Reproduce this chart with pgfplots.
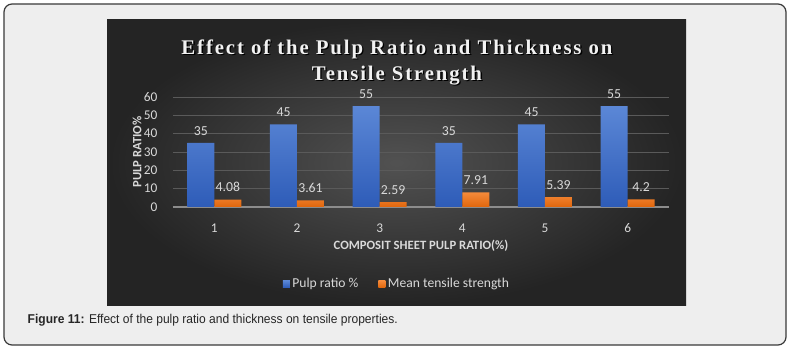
\documentclass[border=0pt]{standalone}
\usepackage{pgfplots}
\pgfplotsset{compat=1.18}
\usepackage{fontspec}
\setmainfont{Carlito}
\newfontfamily\titlefont[LetterSpace=9]{Liberation Serif}
\newfontfamily\capfont[FakeStretch=0.94]{Liberation Sans}
\definecolor{txt}{HTML}{D9D9D9}
\definecolor{panel}{HTML}{EEEEEE}
\definecolor{frame}{HTML}{3A3A3A}
\definecolor{gridc}{HTML}{5A5A5A}
\definecolor{axc}{HTML}{8C8C8C}
\definecolor{btop}{HTML}{5B87D6}
\definecolor{bbot}{HTML}{2E5CB8}
\definecolor{otop}{HTML}{F58A3A}
\definecolor{obot}{HTML}{E0660C}
\begin{document}
\begin{tikzpicture}[x=0.75pt,y=0.75pt]
\fill[white] (0,0) rectangle (794,353);
\draw[fill=panel, draw=frame, line width=0.9pt, rounded corners=6pt] (4,8) rectangle (786,349);
\shade[inner color=black!68, outer color=black!86] (107,47) rectangle (686,333.5);
\node[font=\titlefont\bfseries\fontsize{15.6}{19.5}\selectfont, text=black, align=center] at (398.3,289.7) {Effect of the Pulp Ratio and Thickness on\\Tensile Strength};
\node[font=\titlefont\bfseries\fontsize{15.6}{19.5}\selectfont, text=white!95!black, align=center] at (397,291) {Effect of the Pulp Ratio and Thickness on\\Tensile Strength};
\begin{axis}[
  at={(129.75pt,109.5pt)}, anchor=south west,
  scale only axis, width=372pt, height=82.5pt,
  xmin=0.5, xmax=6.5, ymin=0, ymax=60,
  ybar=0pt, bar width=20.25pt,
  xtick={1,2,3,4,5,6},
  ytick={0,10,20,30,40,50,60},
  /pgf/number format/assume math mode=true,
  ymajorgrids, grid style={gridc, line width=0.6pt},
  axis lines=left, axis line style={-},
  x axis line style={axc, line width=0.9pt},
  y axis line style={draw=none},
  tick style={draw=none},
  ticklabel style={font=\fontsize{10}{12}\selectfont, text=txt},
  yticklabel style={xshift=-6pt},
  xticklabel style={yshift=-7pt},
  xlabel={COMPOSIT SHEET PULP RATIO(\%)},
  xlabel style={at={(axis description cs:0.5,-0.355)}, anchor=center, font=\bfseries\fontsize{9.5}{11}\selectfont, text=txt},
  ylabel={PULP RATIO\%},
  ylabel style={at={(axis description cs:-0.0726,0.5)}, anchor=center, font=\bfseries\fontsize{9.5}{11}\selectfont, text=txt},
  nodes near coords,
  nodes near coords style={font=\fontsize{10.3}{12}\selectfont, text=txt, yshift=2.2pt},
  point meta=explicit symbolic,
  clip=false,
  legend style={at={(0.452,-0.70)}, anchor=center, draw=none, fill=none, text=txt, font=\fontsize{10.2}{12}\selectfont, legend columns=2, /tikz/every even column/.append style={column sep=13pt}},
  legend image code/.code={\path[#1, draw=none] (0pt,-2.6pt) rectangle (5.25pt,2.6pt);},
]
\addplot[top color=btop, bottom color=bbot, draw=none] coordinates {(1,35)[35] (2,45)[45] (3,55)[55] (4,35)[35] (5,45)[45] (6,55)[55]};
\addplot[top color=otop, bottom color=obot, draw=none] coordinates {(1,4.08)[4.08] (2,3.61)[3.61] (3,2.59)[2.59] (4,7.91)[7.91] (5,5.39)[5.39] (6,4.2)[4.2]};
\legend{Pulp ratio \%, Mean tensile strength}
\end{axis}
\node[anchor=base west, font=\capfont\fontsize{9.6}{11}\selectfont, text=black!85] at (23,29) {\textbf{Figure 11:} Effect of the pulp ratio and thickness on tensile properties.};
\end{tikzpicture}
\end{document}
